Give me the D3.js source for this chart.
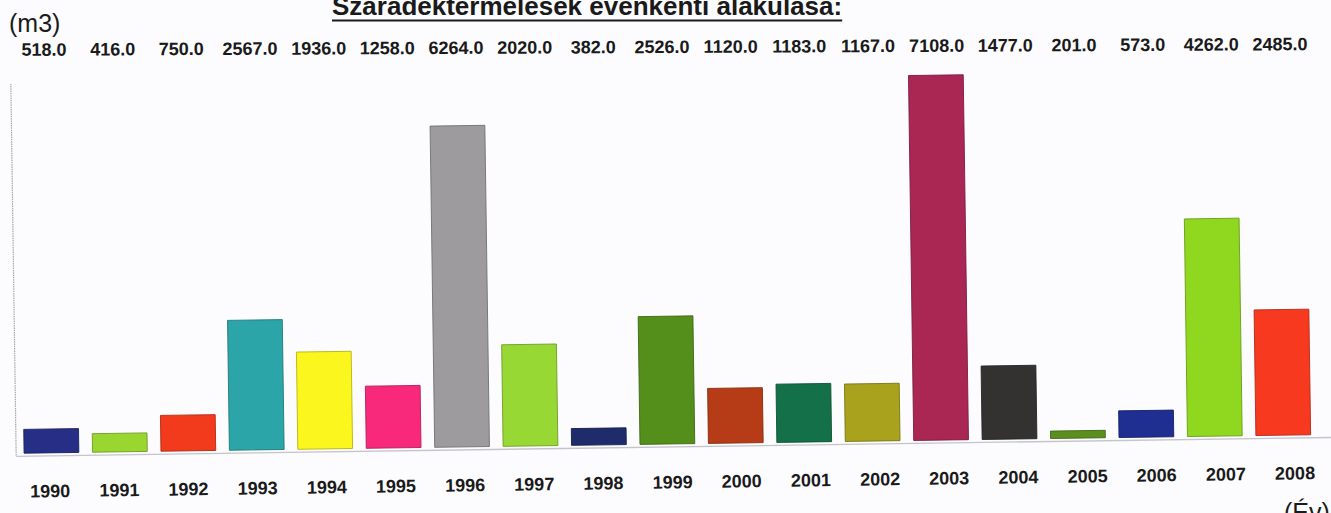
<!DOCTYPE html>
<html>
<head>
<meta charset="utf-8">
<script src="https://cdn.jsdelivr.net/npm/d3@7/dist/d3.min.js"></script>
<style>
  html, body { margin: 0; padding: 0; background: #fcfcfe; }
  svg { display: block; }
  text { font-family: "Liberation Sans", Arial, sans-serif; fill: #1a1a1a; }
</style>
</head>
<body>
<svg id="chart" width="1331" height="513"></svg>
<script>
// Yearly sludge production (m3)
const years = ["1990","1991","1992","1993","1994","1995","1996","1997","1998","1999",
               "2000","2001","2002","2003","2004","2005","2006","2007","2008"];
const volumes = [518, 416, 750, 2567, 1936, 1258, 6264, 2020, 382, 2526,
                 1120, 1183, 1167, 7108, 1477, 201, 573, 4262, 2485];
const barColors = ["#262f85","#9ad630","#f23a1c","#2ca5a8","#fbf71e","#f8287a","#9d9b9e",
                   "#97d835","#1e2c6c","#558f1b","#b63b17","#137048","#a9a21c","#ab2753",
                   "#333231","#5a8f20","#1f2e91","#90d820","#f7391f"];
const yMax = 7200;

const W = 1331, H = 513;
const svg = d3.select("#chart");
svg.append("rect").attr("width", W).attr("height", H).attr("fill", "#fcfcfe");

// Title and unit captions
const title = svg.append("text")
  .attr("x", 332).attr("y", 15)
  .attr("font-size", 26).attr("font-weight", "bold")
  .text("Száradéktermelések évenkénti alakulása:");
const tLen = title.node().getComputedTextLength();
svg.append("line")
  .attr("x1", 332).attr("x2", 332 + tLen)
  .attr("y1", 20.5).attr("y2", 20.5)
  .attr("stroke", "#1a1a1a").attr("stroke-width", 2.2);

svg.append("text").attr("x", 9).attr("y", 32).attr("font-size", 25).text("(m3)");
svg.append("text").attr("x", 1284).attr("y", 521).attr("font-size", 25).text("(Év)");

// Plot area (slightly tilted sheet)
const plot = svg.append("g").attr("transform", "rotate(-0.82, 665, 265)");

const x = d3.scaleBand().domain(years).range([11.2, 1318.4])
  .paddingInner(0.2).paddingOuter(0.15);
const y = d3.scaleLinear().domain([0, yMax]).range([447, 74.3]);
const barGap = 3;

// axes lines
plot.append("line")
  .attr("x1", 13.5).attr("x2", 13.5).attr("y1", y(yMax)).attr("y2", y(0))
  .attr("stroke", "#a8a8ac").attr("stroke-width", 1.2).attr("stroke-dasharray", "1.5,0.8");
plot.append("line")
  .attr("x1", 13.5).attr("x2", 1340).attr("y1", y(0)).attr("y2", y(0))
  .attr("stroke", "#c4c4cc").attr("stroke-width", 1.3);

// bars
plot.selectAll("rect.bar")
  .data(years.map((yr, i) => ({ yr, v: volumes[i], c: barColors[i] })))
  .join("rect")
  .attr("class", "bar")
  .attr("x", d => x(d.yr))
  .attr("width", x.bandwidth())
  .attr("y", d => y(d.v))
  .attr("height", d => y(0) - y(d.v) - barGap)
  .attr("fill", d => d.c)
  .attr("stroke", d => d3.color(d.c).darker(0.9))
  .attr("stroke-width", 0.9);

// year labels under the bars
const xYear = d3.scalePoint().domain(years).range([47, 1292]);
plot.selectAll("text.year")
  .data(years)
  .join("text")
  .attr("class", "year")
  .attr("x", d => xYear(d))
  .attr("y", 488.5)
  .attr("text-anchor", "middle")
  .attr("font-size", 18).attr("font-weight", "bold")
  .text(d => d);

// value row above the plot
const values = svg.append("g").attr("transform", "rotate(-0.25, 665, 53)");
const xVal = d3.scalePoint().domain(years).range([44, 1280]);
values.selectAll("text.val")
  .data(years.map((yr, i) => ({ yr, v: volumes[i] })))
  .join("text")
  .attr("class", "val")
  .attr("x", d => xVal(d.yr))
  .attr("y", 53)
  .attr("text-anchor", "middle")
  .attr("font-size", 18).attr("font-weight", "bold")
  .text(d => d3.format(".1f")(d.v));
</script>
</body>
</html>
